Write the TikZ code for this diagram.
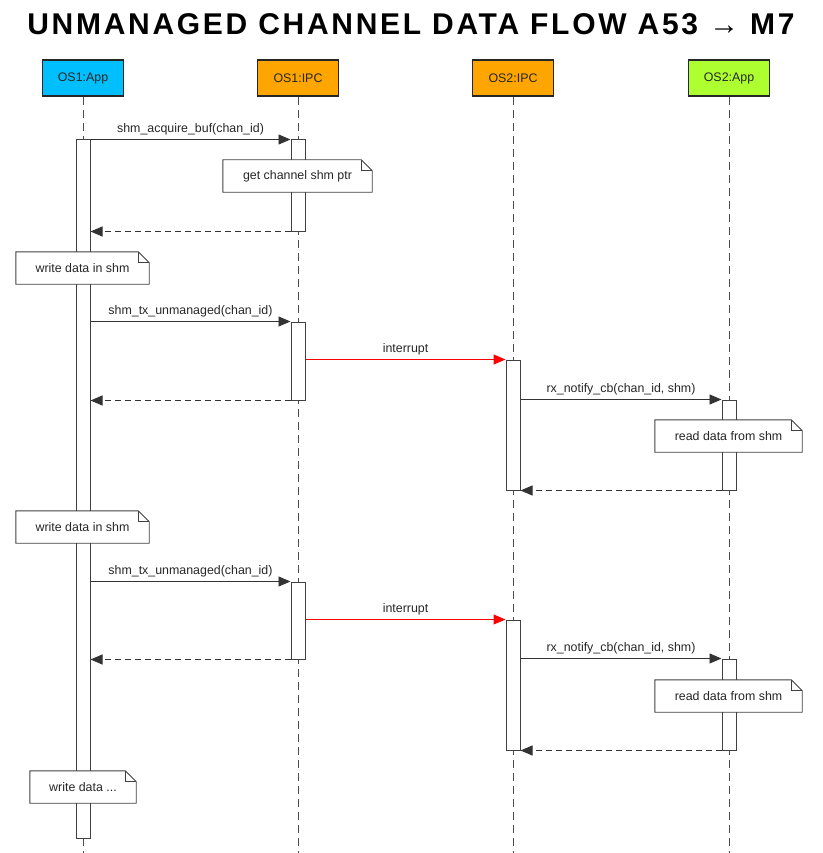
\documentclass[tikz,border=0pt]{standalone}
\usepackage{fontspec}
\setmainfont{Liberation Sans}
\newfontfamily\titlefont[LetterSpace=9]{Liberation Sans}
\usepackage{xcolor}
\usepackage{tikz}
\usetikzlibrary{positioning,arrows.meta,calc}
\definecolor{appblue}{HTML}{00BFFF}
\definecolor{ipcorange}{HTML}{FFA500}
\definecolor{appgreen}{HTML}{ADFF2F}
\newcommand{\notefold}[1]{%
  \draw[black!75, line width=0.9pt] (#1.south west) -- (#1.north west) -- ([xshift=-11pt]#1.north east)
    -- ([yshift=-11pt]#1.north east) -- (#1.south east) -- cycle;
  \draw[black!75, line width=0.9pt] ([xshift=-11pt]#1.north east) |- ([yshift=-11pt]#1.north east);}

\begin{document}
\begin{tikzpicture}[x=1pt, y=-1pt, font=\fontsize{12.4}{14}\selectfont, text=black!85,
  head/.style={draw=black!85, line width=1.8pt, minimum width=81pt, minimum height=36pt, inner sep=0pt},
  life/.style={draw=black!70, dash pattern=on 8pt off 5pt, line width=0.9pt},
  bar/.style={draw=black!75, fill=white, line width=1pt, minimum width=14pt, inner sep=0pt},
  msg/.style={draw=black!80, line width=0.9pt, -{Triangle[length=12pt,width=10pt]}},
  ret/.style={msg, dash pattern=on 6pt off 4pt},
  irq/.style={draw=red, line width=1.2pt, -{Triangle[length=12pt,width=10pt]}},
  note/.style={fill=white, inner sep=0pt, minimum height=32pt}]
  \useasboundingbox (0,0) rectangle (822,853);
  \node[font=\titlefont\bfseries\fontsize{30}{36}\selectfont, text=black] (title) at (411,24) {UNMANAGED CHANNEL DATA FLOW A53 → M7};
  % participants
  \node[head, fill=appblue] (os1app) at (83,78) {OS1:App};
  \node[head, fill=ipcorange] (os1ipc) at (298,78) {OS1:IPC};
  \node[head, fill=ipcorange] (os2ipc) at (513,78) {OS2:IPC};
  \node[head, fill=appgreen] (os2app) at (729,78) {OS2:App};
  \foreach \p in {os1app,os1ipc,os2ipc,os2app}
    \draw[life] (\p.south) -- (\p.south |- 0,853);
  % activations
  \node[bar, minimum height=698pt] (appA) at (83,489) {};
  \node[bar, minimum height=91pt] (ipcA) at (298,185.5) {};
  \node[bar, minimum height=78pt] (ipcB) at (298,361) {};
  \node[bar, minimum height=130pt] (rxA) at (513,425) {};
  \node[bar, minimum height=90pt] (cbA) at (729,445) {};
  \node[bar, minimum height=77pt] (ipcC) at (298,620.5) {};
  \node[bar, minimum height=130pt] (rxB) at (513,685) {};
  \node[bar, minimum height=91pt] (cbB) at (729,704.5) {};
  % acquire buffer
  \draw[msg] (appA.east |- ipcA.north) -- node[above=0.5pt] {shm\_acquire\_buf(chan\_id)} (ipcA.north west);
  \draw[ret] (ipcA.south west) -- (appA.east |- ipcA.south);
  % first transfer
  \draw[msg] (appA.east |- ipcB.north) -- node[above=0.5pt] {shm\_tx\_unmanaged(chan\_id)} (ipcB.north west);
  \draw[irq] (ipcB.east |- rxA.north) -- node[above=0.5pt] {interrupt} (rxA.north west);
  \draw[ret] (ipcB.south west) -- (appA.east |- ipcB.south);
  \draw[msg] (rxA.east |- cbA.north) -- node[above=0.5pt] {rx\_notify\_cb(chan\_id, shm)} (cbA.north west);
  \draw[ret] (cbA.south west) -- (rxA.south east);
  % second transfer
  \draw[msg] (appA.east |- ipcC.north) -- node[above=0.5pt] {shm\_tx\_unmanaged(chan\_id)} (ipcC.north west);
  \draw[irq] (ipcC.east |- rxB.north) -- node[above=0.5pt] {interrupt} (rxB.north west);
  \draw[ret] (ipcC.south west) -- (appA.east |- ipcC.south);
  \draw[msg] (rxB.east |- cbB.north) -- node[above=0.5pt] {rx\_notify\_cb(chan\_id, shm)} (cbB.north west);
  \draw[ret] (cbB.south west) -- (rxB.south east);
  % notes
  \node[note, minimum width=149pt] (getptr) at (297.5,176) {get channel shm ptr};
  \notefold{getptr}
  \node[note, minimum width=133pt] (writeA) at (82.5,268) {write data in shm};
  \notefold{writeA}
  \node[note, minimum width=147pt] (readA) at (728.5,436) {read data from shm};
  \notefold{readA}
  \node[note, minimum width=133pt] (writeB) at (82.5,527) {write data in shm};
  \notefold{writeB}
  \node[note, minimum width=147pt] (readB) at (728.5,696) {read data from shm};
  \notefold{readB}
  \node[note, minimum width=106pt] (writeC) at (83,787) {write data ...};
  \notefold{writeC}
\end{tikzpicture}
\end{document}
